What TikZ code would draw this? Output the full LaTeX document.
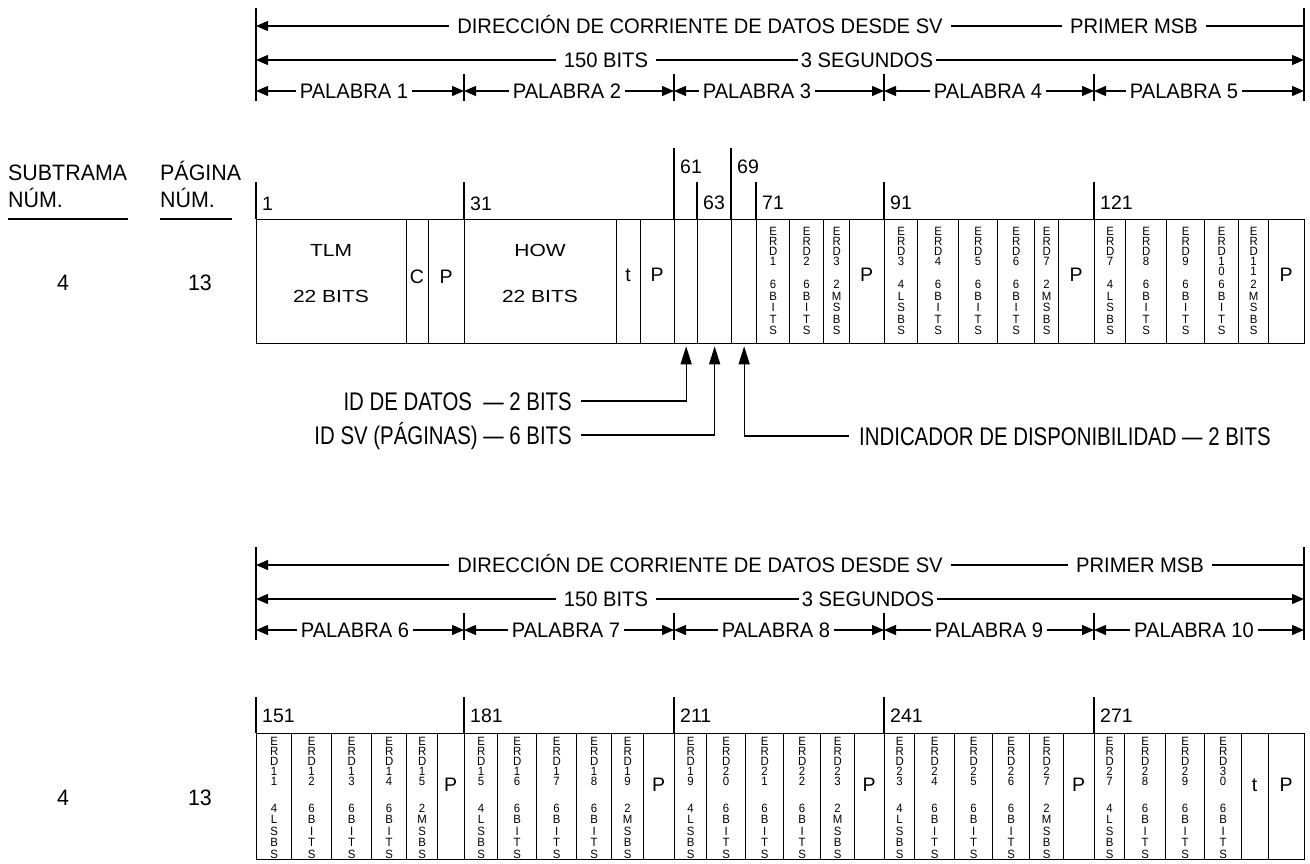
\documentclass[tikz,border=0pt]{standalone}
\usepackage{fontspec}
\setmainfont{Liberation Sans}
\newfontfamily\hdrf[FakeStretch=0.96]{Liberation Sans}
\newfontfamily\lblf[FakeStretch=0.80]{Liberation Sans}
\newfontfamily\widef[FakeStretch=1.2]{Liberation Sans}
\newfontfamily\vtf[FakeStretch=0.95]{Liberation Sans}
\usetikzlibrary{arrows.meta}
\def\rt{219}\def\rb{343}\def\vtop{8pt}\def\vbot{9.4pt}
\def\sixb{6\\B\\I\\T\\S}
\def\twom{2\\M\\S\\B\\S}
\def\fourl{4\\L\\S\\B\\S}
\newcommand\erdcell[5]{%
 \node[cell, minimum width={#3-#2}, minimum height={\rb-\rt}] (#1) at (#2,\rt) {};
 \node[vt=10pt, anchor=north] (#1t) at ([yshift=-\vtop]#1.north) {#4};
 \node[vt=11.5pt, anchor=south] (#1b) at ([yshift=\vbot]#1.south) {#5};}
\newcommand\lcell[5]{%
 \node[cell, minimum width={#3-#2}, minimum height={\rb-\rt}] (#1) at (#2,\rt) {};
 \node[bx] (#1x) at ({(#2+#3)/2},#5) {#4};}
\tikzset{
 ln/.style={line width=1.3pt},
 cell/.style={draw, line width=1.3pt, inner sep=0pt, anchor=north west},
 vt/.style={align=center, inner sep=0pt, font=\vtf\fontsize{12}{#1}\selectfont},
 bx/.style={inner sep=0pt, text height=14pt, text depth=0pt, font=\fontsize{19.5}{22}\selectfont},
 wd/.style={inner sep=0pt, text height=12.5pt, text depth=0pt, font=\widef\fontsize{17.5}{20}\selectfont},
 num/.style={inner sep=0pt, anchor=west, text height=14pt, text depth=0pt, font=\fontsize{19.5}{22}\selectfont},
 hd/.style={inner ysep=0pt, inner xsep=#1, text height=15pt, text depth=0pt, font=\hdrf\fontsize{21}{24}\selectfont},
 hd/.default=6pt,
 sl/.style={inner sep=0pt, text height=16pt, text depth=0pt, font=\hdrf\fontsize{22.3}{25}\selectfont},
 lb/.style={inner sep=0pt, text height=18.3pt, text depth=0pt, font=\lblf\fontsize{25.5}{28}\selectfont},
 harr/.style={line width=1.3pt, -{Triangle[length=12pt,width=10pt]}},
 parr/.style={line width=1.3pt, -{Triangle[length=18pt,width=11pt]}},
}
\begin{document}
\begin{tikzpicture}[x=1pt,y=-1pt]
\useasboundingbox (0,0) rectangle (1310,863);
% ---------- header 1
\draw[ln] (256,8) -- (256,101);
\draw[ln] (1304,8) -- (1304,101);
\foreach \x in {464,674,884,1094} \draw[ln] (\x,74) -- (\x,101);
\coordinate (a1L) at (256,26); \coordinate (a1R) at (1304,26);
\node[hd=8pt] (a1t) at (700,26) {DIRECCIÓN DE CORRIENTE DE DATOS DESDE SV};
\node[hd=8pt] (a1m) at (1134,26) {PRIMER MSB};
\draw[harr] (a1t.west) -- (a1L);
\draw[ln] (a1t.east) -- (a1m.west);
\draw[ln] (a1m.east) -- (a1R);
\coordinate (b1L) at (256,60); \coordinate (b1R) at (1304,60);
\node[hd=8pt] (b1t) at (606,60) {150 BITS};
\node[hd=3pt] (b1m) at (867,60) {3 SEGUNDOS};
\draw[harr] (b1t.west) -- (b1L);
\draw[ln] (b1t.east) -- (b1m.west);
\draw[harr] (b1m.east) -- (b1R);
\coordinate (k10) at (256,91); \coordinate (k11) at (464,91); \coordinate (k12) at (674,91);
\coordinate (k13) at (884,91); \coordinate (k14) at (1094,91); \coordinate (k15) at (1304,91);
\node[hd=4pt] (w1) at (354,91) {PALABRA 1};
\node[hd=4pt] (w2) at (567,91) {PALABRA 2};
\node[hd=4pt] (w3) at (757,91) {PALABRA 3};
\node[hd=4pt] (w4) at (988,91) {PALABRA 4};
\node[hd=4pt] (w5) at (1184,91) {PALABRA 5};
\draw[harr] (w1.west) -- (k10); \draw[harr] (w1.east) -- (k11);
\draw[harr] (w2.west) -- (k11); \draw[harr] (w2.east) -- (k12);
\draw[harr] (w3.west) -- (k12); \draw[harr] (w3.east) -- (k13);
\draw[harr] (w4.west) -- (k13); \draw[harr] (w4.east) -- (k14);
\draw[harr] (w5.west) -- (k14); \draw[harr] (w5.east) -- (k15);
% ---------- left labels
\node[sl, anchor=west] (subA) at (8,172) {SUBTRAMA};
\node[sl, anchor=west] (subB) at (8,199) {NÚM.};
\node[sl, anchor=west] (pagA) at (160,172) {PÁGINA};
\node[sl, anchor=west] (pagB) at (160,199) {NÚM.};
\draw[ln] (8,219) -- (128,219);
\draw[ln] (160,219) -- (232,219);
\node[sl] (sf1) at (63,282) {4};
\node[sl] (pg1) at (200,282) {13};
% ---------- row 1 ticks and numbers
\foreach \x/\y in {256/182,464/182,674/148,697/182,731/148,756/182,884/182,1094/182}
  \draw[ln] (\x,\y) -- (\x,219);
\node[num] (n1) at (262,203) {1};
\node[num] (n31) at (470,203) {31};
\node[num] (n61) at (680,166) {61};
\node[num] (n63) at (703,202) {63};
\node[num] (n69) at (737,166) {69};
\node[num] (n71) at (762,202) {71};
\node[num] (n91) at (890,202) {91};
\node[num] (n121) at (1100,202) {121};
% ---------- row 1 cells
\lcell{tlm}{256}{406}{}{281}
\node[wd] (tlmA) at (331,250) {TLM};
\node[wd] (tlmB) at (331,296) {22 BITS};
\lcell{cc}{406}{428}{C}{276}
\lcell{pa}{428}{464}{P}{276}
\lcell{how}{464}{616}{}{281}
\node[wd] (howA) at (540,250) {HOW};
\node[wd] (howB) at (540,296) {22 BITS};
\lcell{tta}{616}{640}{t}{274}
\lcell{pb}{640}{674}{P}{274}
\lcell{ga}{674}{697}{}{281}
\lcell{gb}{697}{731}{}{281}
\lcell{gc}{731}{756}{}{281}
\erdcell{ea}{756}{789}{E\\R\\D\\1}{\sixb}
\erdcell{eb}{789}{823}{E\\R\\D\\2}{\sixb}
\erdcell{ec}{823}{849}{E\\R\\D\\3}{\twom}
\lcell{pc}{849}{884}{P}{274}
\erdcell{ed}{884}{917}{E\\R\\D\\3}{\fourl}
\erdcell{ee}{917}{958}{E\\R\\D\\4}{\sixb}
\erdcell{ef}{958}{997}{E\\R\\D\\5}{\sixb}
\erdcell{eg}{997}{1034}{E\\R\\D\\6}{\sixb}
\erdcell{eh}{1034}{1058}{E\\R\\D\\7}{\twom}
\lcell{pd}{1058}{1094}{P}{274}
\erdcell{ei}{1094}{1125}{E\\R\\D\\7}{\fourl}
\erdcell{ej}{1125}{1166}{E\\R\\D\\8}{\sixb}
\erdcell{ek}{1166}{1204}{E\\R\\D\\9}{\sixb}
\erdcell{el}{1204}{1238}{E\\R\\D\\1\\0}{\sixb}
\erdcell{em}{1238}{1268}{E\\R\\D\\1\\1}{\twom}
\lcell{pe}{1268}{1304}{P}{274}
% ---------- pointers
\node[lb, anchor=east] (idd) at (572,401) {ID DE DATOS \ — 2 BITS};
\node[lb, anchor=east] (ids) at (572,435) {ID SV (PÁGINAS) — 6 BITS};
\node[lb, anchor=west] (ind) at (859,436) {INDICADOR DE DISPONIBILIDAD — 2 BITS};
\draw[parr] ([xshift=9pt]idd.east) -| ([yshift=-2pt]ga.south);
\draw[parr] ([xshift=9pt]ids.east) -| ([yshift=-2pt]gb.south);
\draw[parr] ([xshift=-10pt]ind.west) -| ([yshift=-2pt]gc.south);
% ---------- header 2
\draw[ln] (256,547) -- (256,640);
\draw[ln] (1304,547) -- (1304,640);
\foreach \x in {464,674,884,1094} \draw[ln] (\x,613) -- (\x,640);
\coordinate (a2L) at (256,565); \coordinate (a2R) at (1304,565);
\node[hd=8pt] (a2t) at (700,565) {DIRECCIÓN DE CORRIENTE DE DATOS DESDE SV};
\node[hd=8pt] (a2m) at (1140,565) {PRIMER MSB};
\draw[harr] (a2t.west) -- (a2L);
\draw[ln] (a2t.east) -- (a2m.west);
\draw[ln] (a2m.east) -- (a2R);
\coordinate (b2L) at (256,599); \coordinate (b2R) at (1304,599);
\node[hd=8pt] (b2t) at (606,599) {150 BITS};
\node[hd=3pt] (b2m) at (868,599) {3 SEGUNDOS};
\draw[harr] (b2t.west) -- (b2L);
\draw[ln] (b2t.east) -- (b2m.west);
\draw[harr] (b2m.east) -- (b2R);
\coordinate (k20) at (256,630); \coordinate (k21) at (464,630); \coordinate (k22) at (674,630);
\coordinate (k23) at (884,630); \coordinate (k24) at (1094,630); \coordinate (k25) at (1304,630);
\node[hd=4pt] (w6) at (355,630) {PALABRA 6};
\node[hd=4pt] (w7) at (566,630) {PALABRA 7};
\node[hd=4pt] (w8) at (776,630) {PALABRA 8};
\node[hd=4pt] (w9) at (989,630) {PALABRA 9};
\node[hd=4pt] (w10) at (1194,630) {PALABRA 10};
\draw[harr] (w6.west) -- (k20); \draw[harr] (w6.east) -- (k21);
\draw[harr] (w7.west) -- (k21); \draw[harr] (w7.east) -- (k22);
\draw[harr] (w8.west) -- (k22); \draw[harr] (w8.east) -- (k23);
\draw[harr] (w9.west) -- (k23); \draw[harr] (w9.east) -- (k24);
\draw[harr] (w10.west) -- (k24); \draw[harr] (w10.east) -- (k25);
% ---------- row 2
\node[sl] (sf2) at (63,797) {4};
\node[sl] (pg2) at (200,797) {13};
\foreach \x in {256,464,674,884,1094} \draw[ln] (\x,697) -- (\x,733);
\node[num] (n151) at (262,715) {151};
\node[num] (n181) at (470,715) {181};
\node[num] (n211) at (680,715) {211};
\node[num] (n241) at (890,715) {241};
\node[num] (n271) at (1100,715) {271};
\def\rt{733}\def\rb{859}\def\vtop{3.7pt}\def\vbot{1.5pt}
\erdcell{fa}{256}{291}{E\\R\\D\\1\\1}{\fourl}
\erdcell{fb}{291}{331}{E\\R\\D\\1\\2}{\sixb}
\erdcell{fc}{331}{371}{E\\R\\D\\1\\3}{\sixb}
\erdcell{fd}{371}{406}{E\\R\\D\\1\\4}{\sixb}
\erdcell{fe}{406}{437}{E\\R\\D\\1\\5}{\twom}
\lcell{qa}{437}{464}{P}{784}
\erdcell{fg}{464}{497}{E\\R\\D\\1\\5}{\fourl}
\erdcell{fh}{497}{536}{E\\R\\D\\1\\6}{\sixb}
\erdcell{fi}{536}{576}{E\\R\\D\\1\\7}{\sixb}
\erdcell{fj}{576}{611}{E\\R\\D\\1\\8}{\sixb}
\erdcell{fk}{611}{643}{E\\R\\D\\1\\9}{\twom}
\lcell{qb}{643}{674}{P}{784}
\erdcell{fl}{674}{706}{E\\R\\D\\1\\9}{\fourl}
\erdcell{fm}{706}{745}{E\\R\\D\\2\\0}{\sixb}
\erdcell{fn}{745}{783}{E\\R\\D\\2\\1}{\sixb}
\erdcell{fo}{783}{820}{E\\R\\D\\2\\2}{\sixb}
\erdcell{fp}{820}{854}{E\\R\\D\\2\\3}{\twom}
\lcell{qc}{854}{884}{P}{784}
\erdcell{fq}{884}{914}{E\\R\\D\\2\\3}{\fourl}
\erdcell{fr}{914}{954}{E\\R\\D\\2\\4}{\sixb}
\erdcell{fs}{954}{992}{E\\R\\D\\2\\5}{\sixb}
\erdcell{ft}{992}{1029}{E\\R\\D\\2\\6}{\sixb}
\erdcell{fu}{1029}{1063}{E\\R\\D\\2\\7}{\twom}
\lcell{qd}{1063}{1094}{P}{784}
\erdcell{fv}{1094}{1124}{E\\R\\D\\2\\7}{\fourl}
\erdcell{fw}{1124}{1165}{E\\R\\D\\2\\8}{\sixb}
\erdcell{fx}{1165}{1204}{E\\R\\D\\2\\9}{\sixb}
\erdcell{fy}{1204}{1241}{E\\R\\D\\3\\0}{\sixb}
\lcell{qe}{1241}{1268}{t}{784}
\lcell{qf}{1268}{1304}{P}{784}
\end{tikzpicture}
\end{document}
